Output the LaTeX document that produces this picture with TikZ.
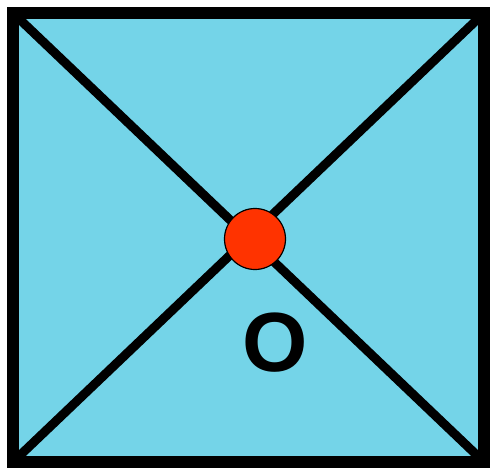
\documentclass[tikz,border=0pt]{standalone}
\usepackage{fontspec}
\setmainfont{Liberation Sans}
\usepackage{xcolor}
\definecolor{boxblue}{HTML}{74D4E8}
\definecolor{dotred}{HTML}{FF3300}

\begin{document}
\begin{tikzpicture}[x=1pt,y=-1pt]
\useasboundingbox (0,0) rectangle (496,472);
\coordinate (tl) at (13,13);
\coordinate (tr) at (484,13);
\coordinate (br) at (484,462);
\coordinate (bl) at (13,462);
\fill[boxblue] (tl) rectangle (br);
\draw[line width=9pt] (tl) -- (br);
\draw[line width=9pt] (bl) -- (tr);
\draw[line width=12pt] (tl) rectangle (br);
\node[circle,fill=dotred,draw=black,line width=1.2pt,minimum size=61pt,inner sep=0pt] (o) at (255,239) {};
\node[font=\fontsize{84}{84}\selectfont\bfseries] (lbl) at (275,343) {O};
\end{tikzpicture}
\end{document}
